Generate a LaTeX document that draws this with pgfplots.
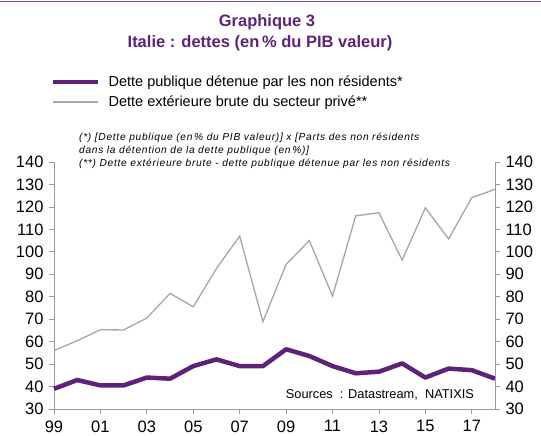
\documentclass[border=0pt]{standalone}
\usepackage{pgfplots}
\pgfplotsset{compat=1.18}
\usepackage{fontspec}
\setmainfont{Liberation Sans}
\definecolor{natpurple}{HTML}{5E2378}
\definecolor{lgrey}{HTML}{A6A6A6}
\definecolor{axgrey}{HTML}{9A9A9A}
\begin{document}
\begin{tikzpicture}
\path (0pt,0pt) rectangle (541pt,436pt);
\draw[natpurple!80,line width=1.2pt] (0pt,434.5pt) -- (541pt,434.5pt);
\node[font=\fontsize{16.5}{18}\selectfont\bfseries,text=natpurple,align=center] at (267pt,414pt) {Graphique 3};
\node[font=\fontsize{16.5}{18}\selectfont\bfseries,text=natpurple,align=center] at (260pt,393pt) {Italie : dettes (en\,\% du PIB valeur)};
\node[font=\fontsize{10.2}{12.8}\selectfont\itshape\addfontfeatures{LetterSpace=7},align=left,anchor=north west,inner sep=0pt] at (79pt,303pt) {(*) [Dette publique (en\,\% du PIB valeur)] x [Parts des non résidents\\dans la détention de la dette publique (en\,\%)]\\(**) Dette extérieure brute - dette publique détenue par les non résidents};
\begin{axis}[
  at={(54pt,27pt)}, anchor=south west,
  scale only axis, width=441pt, height=247pt,
  xmin=1999, xmax=2018, ymin=30, ymax=140,
  axis x line*=bottom, axis y line*=left,
  axis line style={axgrey,line width=0.8pt},
  every tick/.style={axgrey,line width=0.8pt},
  tick align=outside, major tick length=5pt,
  xtick={1999,2001,...,2017},
  xticklabels={99,01,03,05,07,09,11,13,15,17},
  ytick={30,40,...,140},
  /pgf/number format/assume math mode=true,
  /pgf/number format/1000 sep={},
  tick label style={font=\fontsize{16.5}{18}\selectfont},
  xticklabel style={yshift=-3pt},
  yticklabel style={xshift=-2pt},
  legend style={at={(-0.007,1.358)}, anchor=north west, draw=none, fill=none,
    font=\fontsize{14.5}{17}\selectfont, row sep=4pt, inner sep=0pt},
  legend cell align=left,
  legend image code/.code={\draw[#1] (0pt,0pt) -- (45pt,0pt); \path (51pt,0pt);},
  clip=false,
]
\addlegendimage{natpurple,line width=4.5pt}
\addlegendentry{Dette publique détenue par les non résidents*}
\addlegendimage{lgrey,line width=1.3pt}
\addlegendentry{Dette extérieure brute du secteur privé**}
\addplot[lgrey,line width=1.3pt,forget plot] coordinates {
(1999,56) (2000,60.4) (2001,65.3) (2002,65.2) (2003,70.5) (2004,81.5) (2005,75.5)
(2006,92.6) (2007,107) (2008,68.9) (2009,94.4) (2010,105) (2011,80.3) (2012,116)
(2013,117.4) (2014,96.3) (2015,119.6) (2016,105.7) (2017,124.1) (2018,127.8)};
\addplot[natpurple,line width=4.5pt,line join=round,forget plot] coordinates {
(1999,39) (2000,42.9) (2001,40.5) (2002,40.5) (2003,44) (2004,43.5) (2005,49.1)
(2006,52.1) (2007,49.1) (2008,49.1) (2009,56.6) (2010,53.6) (2011,49.1) (2012,45.9)
(2013,46.6) (2014,50.3) (2015,44) (2016,48) (2017,47.3) (2018,43.5)};
\node[anchor=east,font=\fontsize{12.8}{15}\selectfont,inner sep=0pt] at (axis cs:2017.1,36.2) {Sources\ \ : Datastream,\ \ NATIXIS};
\end{axis}
\begin{axis}[
  at={(54pt,27pt)}, anchor=south west,
  scale only axis, width=441pt, height=247pt,
  xmin=1999, xmax=2018, ymin=30, ymax=140,
  axis x line=none, axis y line*=right,
  axis line style={axgrey,line width=0.8pt},
  every tick/.style={axgrey,line width=0.8pt},
  tick align=outside, major tick length=5pt,
  ytick={30,40,...,140},
  /pgf/number format/assume math mode=true,
  tick label style={font=\fontsize{16.5}{18}\selectfont},
  yticklabel style={xshift=2pt},
]
\end{axis}
\pgfresetboundingbox
\path (0pt,0pt) rectangle (541pt,436pt);
\end{tikzpicture}
\end{document}
